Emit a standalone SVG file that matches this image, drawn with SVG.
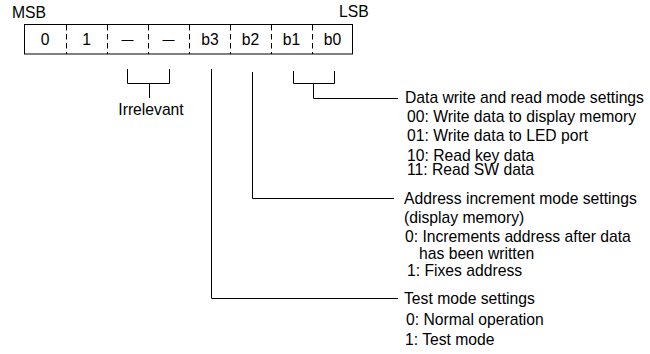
<svg xmlns="http://www.w3.org/2000/svg" width="650" height="354" viewBox="0 0 650 354">
<style>
text{font-family:"Liberation Sans",Arial,sans-serif;font-size:15.7px;fill:#000}
.c{text-anchor:middle}
.ln{fill:none;stroke:#000;stroke-width:1}
.dv{stroke:#000;stroke-width:1;stroke-dasharray:5.5 3.5}
</style>
<rect width="650" height="354" fill="#fff"/>
<g id="register">
<text x="12" y="18">MSB</text>
<text x="339" y="17">LSB</text>
<rect class="ln" x="24.5" y="24.5" width="328" height="29.5"/>
<line class="dv" x1="66.5" y1="25" x2="66.5" y2="54"/>
<line class="dv" x1="107.5" y1="25" x2="107.5" y2="54"/>
<line class="dv" x1="148.5" y1="25" x2="148.5" y2="54"/>
<line class="dv" x1="189.5" y1="25" x2="189.5" y2="54"/>
<line class="dv" x1="230.5" y1="25" x2="230.5" y2="54"/>
<line class="dv" x1="271.5" y1="25" x2="271.5" y2="54"/>
<line class="dv" x1="312.5" y1="25" x2="312.5" y2="54"/>
<text class="c" x="45" y="45">0</text>
<text class="c" x="86.5" y="45">1</text>
<text class="c" x="127.5" y="44" style="font-size:12px">—</text>
<text class="c" x="168.5" y="44" style="font-size:12px">—</text>
<text class="c" x="210" y="45">b3</text>
<text class="c" x="250.5" y="45">b2</text>
<text class="c" x="291.5" y="45">b1</text>
<text class="c" x="332.5" y="45">b0</text>
</g>
<g id="connectors">
<path class="ln" d="M127.5 69V83.5H169.5V69M149.5 83.5V98"/>
<path class="ln" d="M211.5 69V298.5H398"/>
<path class="ln" d="M252.5 72V198.5H394"/>
<path class="ln" d="M293.5 71V83.5H334.5V71M313.5 83.5V98.5H398"/>
</g>
<g id="irrelevant">
<text class="c" x="151" y="115">Irrelevant</text>
</g>
<g id="data-mode">
<text x="405" y="103">Data write and read mode settings</text>
<text x="407" y="122">00: Write data to display memory</text>
<text x="407" y="141">01: Write data to LED port</text>
<text x="407" y="161">10: Read key data</text>
<text x="407" y="175">11: Read SW data</text>
</g>
<g id="address-mode">
<text x="404" y="204">Address increment mode settings</text>
<text x="404" y="223">(display memory)</text>
<text x="405" y="242">0: Increments address after data</text>
<text x="419" y="259">has been written</text>
<text x="407" y="276">1: Fixes address</text>
</g>
<g id="test-mode">
<text x="404" y="304">Test mode settings</text>
<text x="406" y="325">0: Normal operation</text>
<text x="405" y="345">1: Test mode</text>
</g>
</svg>
